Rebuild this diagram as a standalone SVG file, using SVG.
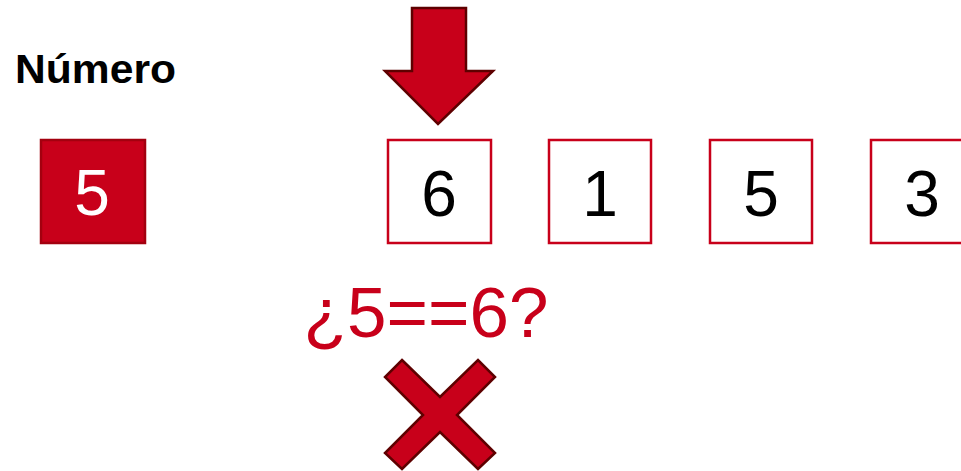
<svg xmlns="http://www.w3.org/2000/svg" width="961" height="471" viewBox="0 0 961 471">
<style>
.box{fill:#ffffff;stroke:#C8001A;stroke-width:2.5}
.num{font-family:"Liberation Sans",Arial,sans-serif;font-size:64px;text-anchor:middle;fill:#000}
.dark{stroke:#5E0000;stroke-width:2.5;fill:#C8001A;stroke-linejoin:miter}
</style>
<rect width="961" height="471" fill="#ffffff"/>
<g id="label">
<text x="15" y="83" font-family="Liberation Sans,Arial,sans-serif" font-weight="bold" font-size="41" textLength="161" lengthAdjust="spacingAndGlyphs" fill="#000">Número</text>
</g>
<g id="numero">
<rect x="41" y="140" width="104" height="103" fill="#C8001A" stroke="#A3000F" stroke-width="2.5"/>
<text x="92" y="215" class="num" fill="#fff" style="fill:#fff">5</text>
</g>
<g id="pointer">
<polygon class="dark" points="412,8 466,8 466,71 493,71 438,124 385,71 412,71"/>
</g>
<g id="cell1">
<rect class="box" x="388" y="140" width="103" height="103"/>
<text x="439" y="216" class="num">6</text>
</g>
<g id="cell2">
<rect class="box" x="549" y="140" width="102" height="103"/>
<text x="600" y="216" class="num">1</text>
</g>
<g id="cell3">
<rect class="box" x="710" y="140" width="102" height="103"/>
<text x="761" y="216" class="num">5</text>
</g>
<g id="cell4">
<rect class="box" x="871" y="140" width="102" height="103"/>
<text x="922" y="216" class="num">3</text>
</g>
<g id="question">
<text x="426" y="337" font-family="Liberation Sans,Arial,sans-serif" font-size="71" text-anchor="middle" fill="#C8001A">¿5==6?</text>
</g>
<g id="cross">
<polygon class="dark" points="402,360 440,397 478,360 495,377 457,415 495,453 478,469 440,432 402,469 385,453 423,415 385,377"/>
</g>
<g id="connectors"></g>
</svg>
